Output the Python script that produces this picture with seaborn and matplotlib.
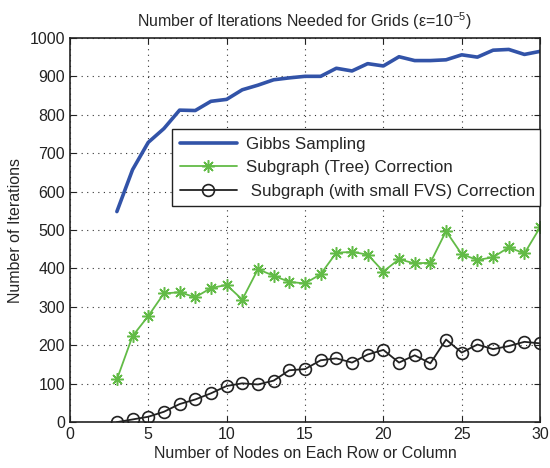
import matplotlib

matplotlib.use("Agg")
import matplotlib.pyplot as plt
import pandas as pd
import seaborn as sns

# Veriler (grafikten okunan yaklaşık değerler)
nodes = list(range(3, 31))
gibbs = [548, 657, 728, 764, 812, 811, 835, 840, 865, 877, 891, 896, 900, 900,
         921, 914, 933, 927, 951, 941, 941, 943, 956, 950, 968, 970, 957, 965]
tree = [111, 224, 276, 335, 338, 325, 349, 357, 319, 398, 381, 365, 361, 385,
        441, 443, 436, 392, 424, 413, 415, 497, 437, 422, 429, 455, 439, 507]
fvs = [0, 7, 14, 27, 47, 59, 75, 94, 101, 98, 108, 135, 138, 161,
       166, 155, 176, 188, 155, 174, 153, 215, 181, 202, 190, 198, 209, 205]

labels = ["Gibbs Sampling", "Subgraph (Tree) Correction",
          " Subgraph (with small FVS) Correction"]

sns.set_style("ticks")
plt.rcParams["font.family"] = ["Liberation Sans", "DejaVu Sans"]
plt.rcParams["mathtext.fontset"] = "custom"
plt.rcParams["mathtext.rm"] = "Liberation Sans"
plt.rcParams["mathtext.it"] = "Liberation Sans:italic"

df = pd.DataFrame({"nodes": nodes, "gibbs": gibbs, "tree": tree, "fvs": fvs})

fig, ax = plt.subplots(figsize=(5.5, 4.68), dpi=100)
fig.subplots_adjust(left=0.127, right=0.982, bottom=0.098, top=0.919)

sns.lineplot(data=df, x="nodes", y="gibbs", ax=ax, color="#3253a8",
             linewidth=2.6, label=labels[0])
# MATLAB tarzı yıldız (asterisk) işaretçi
sns.lineplot(data=df, x="nodes", y="tree", ax=ax, color="#62bb46",
             linewidth=1.3, marker=(8, 2, 0), markersize=9, markeredgewidth=1.1,
             markeredgecolor="#62bb46", label=labels[1])
sns.lineplot(data=df, x="nodes", y="fvs", ax=ax, color="#222222",
             linewidth=1.3, marker="o", markersize=8.5, markerfacecolor="none",
             markeredgecolor="#222222", markeredgewidth=1.2, label=labels[2])

ax.set_xlim(0, 30)
ax.set_ylim(0, 1000)
ax.set_xticks(range(0, 31, 5))
ax.set_yticks(range(0, 1001, 100))
ax.grid(True, linestyle=(0, (1, 4)), color="#333333", linewidth=0.8)
ax.tick_params(direction="in", top=True, right=True, labelsize=11.5,
               colors="#222222", length=4)
for s in ax.spines.values():
    s.set_visible(True)
    s.set_color("#222222")
    s.set_linewidth(1.2)

ax.set_xlabel("Number of Nodes on Each Row or Column", fontsize=11.5, labelpad=3)
ax.set_ylabel("Number of Iterations", fontsize=11.5, labelpad=5)
ax.set_title("Number of Iterations Needed for Grids (ε=10$^{-5}$)",
             fontsize=11.5, pad=8)

leg = ax.legend(loc="upper left", bbox_to_anchor=(0.217, 0.56, 0.783, 0.203),
                mode="expand", fontsize=12.2, frameon=True, fancybox=False,
                framealpha=1, borderaxespad=0, handlelength=3.4,
                labelspacing=0.5, borderpad=0.45, handletextpad=0.5)
leg.get_frame().set_edgecolor("#222222")
leg.get_frame().set_linewidth(1.0)

fig.savefig("out.png", dpi=100)
plt.close(fig)
